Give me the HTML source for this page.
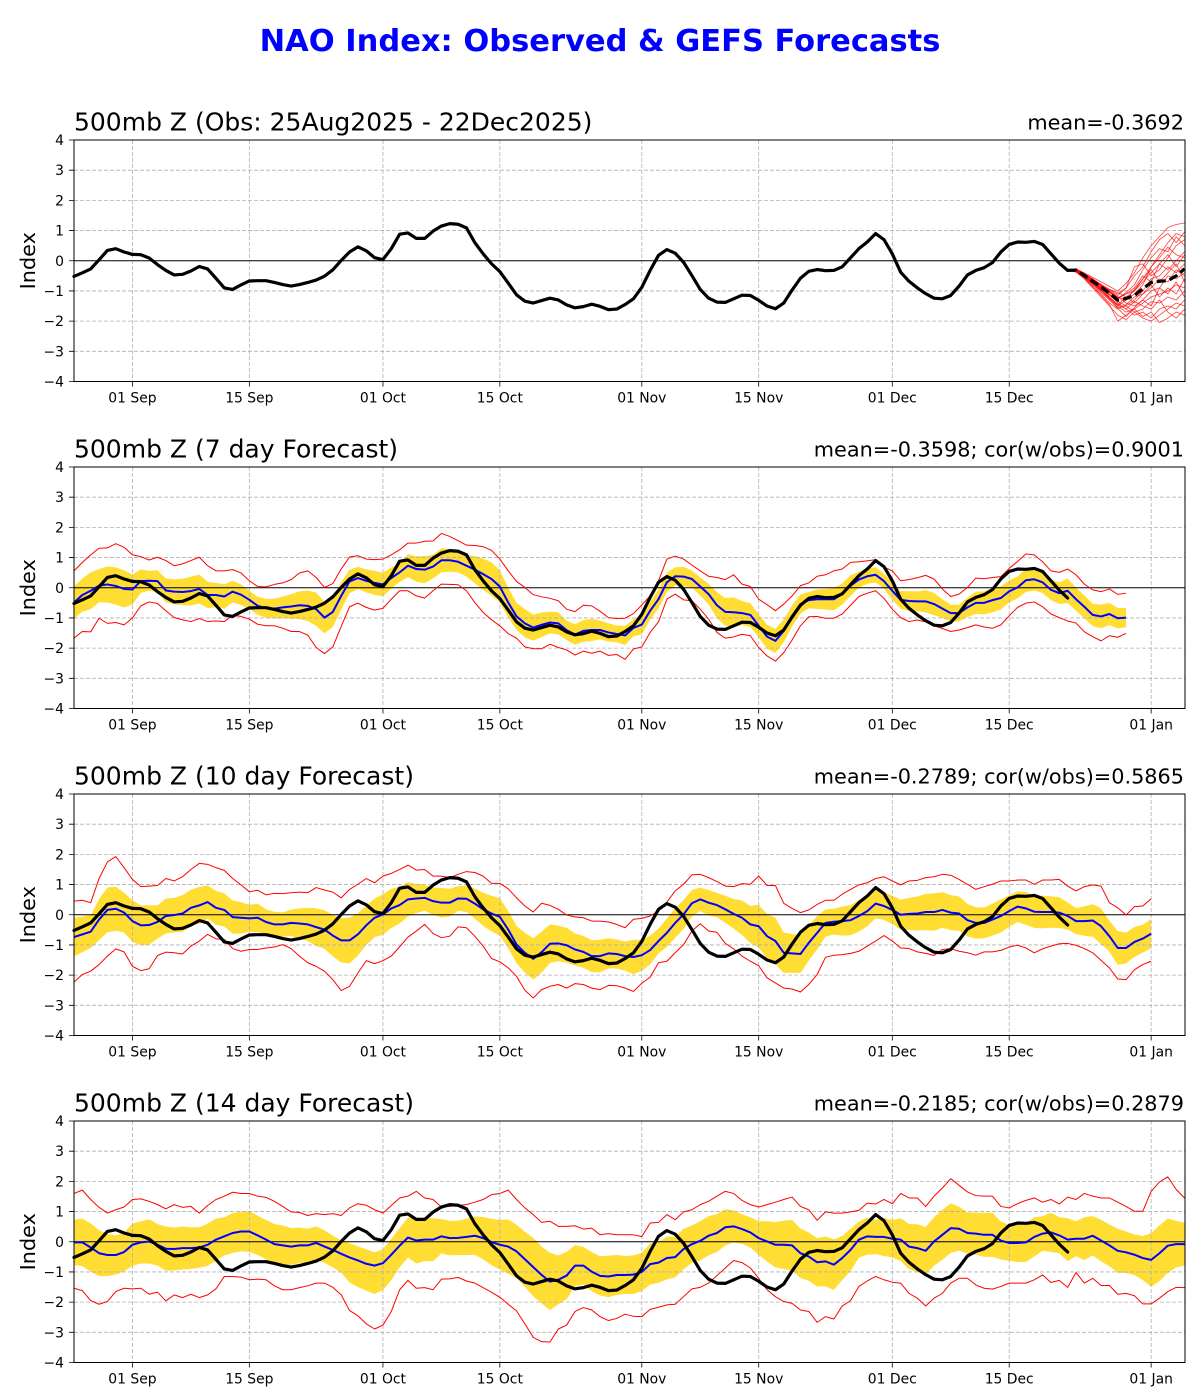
<!DOCTYPE html>
<html>
<head>
<meta charset="utf-8">
<style>
html,body{margin:0;padding:0;background:#fff;}
svg{display:block;}
text{font-family:"DejaVu Sans","Liberation Sans",sans-serif;fill:#000;}
.grid{stroke:#b0b0b0;stroke-width:0.8;stroke-dasharray:4,2;fill:none;}
.tick{stroke:#000;stroke-width:0.8;fill:none;}
.frame{stroke:#000;stroke-width:1;fill:none;}
.zero{stroke:#000;stroke-width:1;fill:none;}
.band{fill:#ffdd33;stroke:none;}
.red{fill:none;stroke:#ff0000;stroke-width:1;stroke-linejoin:round;}
.mem{fill:none;stroke:#ff0000;stroke-width:0.8;stroke-opacity:0.75;stroke-linejoin:round;}
.blue{fill:none;stroke:#0000ff;stroke-width:2;stroke-linejoin:round;}
.obs{fill:none;stroke:#000;stroke-width:3.2;stroke-linejoin:round;stroke-linecap:round;}
.yt{font-size:13.9px;text-anchor:end;}
.xt{font-size:13.9px;text-anchor:middle;}
.ttl{font-size:25px;}
.rt{font-size:20.8px;text-anchor:end;}
.yl{font-size:20.8px;text-anchor:middle;}
</style>
</head>
<body>
<svg width="1200" height="1400" viewBox="0 0 1200 1400" xmlns="http://www.w3.org/2000/svg">
<rect x="0" y="0" width="1200" height="1400" fill="#fff"/>
<text x="600" y="51" text-anchor="middle" style="font-size:30.5px;font-weight:bold;fill:#0000ff;">NAO Index: Observed &amp; GEFS Forecasts</text>

<!-- ================= PANEL 1 ================= -->
<g transform="translate(0,140)">
  <path class="grid" d="M74,30.19H1185M74,60.38H1185M74,90.56H1185M74,150.94H1185M74,181.13H1185M74,211.31H1185M132.45,0V241.5M249.35,0V241.5M382.95,0V241.5M499.85,0V241.5M641.8,0V241.5M758.7,0V241.5M892.3,0V241.5M1009.2,0V241.5M1151.15,0V241.5"/>
  <path class="zero" d="M74,120.75H1185"/>
  <g transform="translate(74,0) scale(8.35,-30.1875) translate(0,-4)">
    <polyline class="mem" vector-effect="non-scaling-stroke" points="119,-0.32 120,-0.28 121,-0.40 122,-0.55 123,-0.70 124,-0.85 125,-1.00 126,-0.75 127,-0.40 128,0.10 129,0.50 130,0.80 131,1.10 132,1.20 133,1.25"/>
    <polyline class="mem" vector-effect="non-scaling-stroke" points="119,-0.32 120,-0.30 121,-0.45 122,-0.60 123,-0.80 124,-0.95 125,-1.10 126,-0.90 127,-0.50 128,-0.20 129,0.30 130,0.70 131,0.90 132,0.60 133,0.95"/>
    <polyline class="mem" vector-effect="non-scaling-stroke" points="119,-0.32 120,-0.35 121,-0.50 122,-0.75 123,-0.90 124,-1.15 125,-1.25 126,-1.05 127,-0.80 128,-0.30 129,0.10 130,0.40 131,0.30 132,0.80 133,0.50"/>
    <polyline class="mem" vector-effect="non-scaling-stroke" points="119,-0.32 120,-0.26 121,-0.42 122,-0.62 123,-0.85 124,-1.05 125,-1.20 126,-1.30 127,-0.95 128,-0.60 129,-0.20 130,0.10 131,0.45 132,0.20 133,0.10"/>
    <polyline class="mem" vector-effect="non-scaling-stroke" points="119,-0.32 120,-0.33 121,-0.55 122,-0.80 123,-1.00 124,-1.20 125,-1.45 126,-1.20 127,-1.00 128,-0.70 129,-0.40 130,-0.10 131,-0.30 132,0.00 133,0.30"/>
    <polyline class="mem" vector-effect="non-scaling-stroke" points="119,-0.32 120,-0.30 121,-0.48 122,-0.70 123,-0.95 124,-1.10 125,-1.35 126,-1.50 127,-1.30 128,-1.00 129,-0.60 130,-0.50 131,-0.20 132,-0.40 133,-0.10"/>
    <polyline class="mem" vector-effect="non-scaling-stroke" points="119,-0.32 120,-0.36 121,-0.58 122,-0.85 123,-1.10 124,-1.40 125,-1.60 126,-1.45 127,-1.20 128,-1.10 129,-0.90 130,-0.60 131,-0.70 132,-0.30 133,-0.50"/>
    <polyline class="mem" vector-effect="non-scaling-stroke" points="119,-0.32 120,-0.29 121,-0.44 122,-0.65 123,-0.82 124,-1.00 125,-1.20 126,-1.40 127,-1.50 128,-1.30 129,-1.00 130,-0.90 131,-0.50 132,-0.60 133,-0.40"/>
    <polyline class="mem" vector-effect="non-scaling-stroke" points="119,-0.32 120,-0.34 121,-0.52 122,-0.72 123,-0.92 124,-1.20 125,-1.50 126,-1.70 127,-1.60 128,-1.40 129,-1.20 130,-1.10 131,-1.00 132,-0.80 133,-0.90"/>
    <polyline class="mem" vector-effect="non-scaling-stroke" points="119,-0.32 120,-0.31 121,-0.50 122,-0.78 123,-1.05 124,-1.30 125,-1.55 126,-1.50 127,-1.70 128,-1.60 129,-1.35 130,-1.40 131,-1.20 132,-1.30 133,-1.00"/>
    <polyline class="mem" vector-effect="non-scaling-stroke" points="119,-0.32 120,-0.27 121,-0.46 122,-0.66 123,-0.88 124,-1.12 125,-1.40 126,-1.60 127,-1.80 128,-1.70 129,-1.90 130,-1.60 131,-1.50 132,-1.60 133,-1.30"/>
    <polyline class="mem" vector-effect="non-scaling-stroke" points="119,-0.32 120,-0.38 121,-0.60 122,-0.90 123,-1.20 124,-1.50 125,-1.80 126,-1.95 127,-1.70 128,-1.90 129,-2.00 130,-1.80 131,-1.60 132,-1.40 133,-1.50"/>
    <polyline class="mem" vector-effect="non-scaling-stroke" points="119,-0.32 120,-0.33 121,-0.56 122,-0.85 123,-1.15 124,-1.45 125,-2.00 126,-1.80 127,-1.60 128,-1.85 129,-1.70 130,-2.05 131,-1.90 132,-1.70 133,-1.80"/>
    <polyline class="mem" vector-effect="non-scaling-stroke" points="119,-0.32 120,-0.30 121,-0.47 122,-0.64 123,-0.80 124,-0.98 125,-1.15 126,-0.90 127,-0.20 128,-0.10 129,-0.50 130,-0.30 131,0.10 132,0.50 133,0.70"/>
    <polyline class="mem" vector-effect="non-scaling-stroke" points="119,-0.32 120,-0.34 121,-0.54 122,-0.74 123,-0.96 124,-1.25 125,-1.50 126,-1.30 127,-1.10 128,-0.80 129,-0.20 130,0.20 131,0.60 132,0.90 133,0.80"/>
    <polyline class="mem" vector-effect="non-scaling-stroke" points="119,-0.32 120,-0.29 121,-0.43 122,-0.60 123,-0.78 124,-0.95 125,-1.05 126,-1.20 127,-1.40 128,-1.10 129,-0.80 130,-1.20 131,-0.90 132,-1.10 133,-0.60"/>
    <polyline class="mem" vector-effect="non-scaling-stroke" points="119,-0.32 120,-0.32 121,-0.51 122,-0.73 123,-0.97 124,-1.22 125,-1.45 126,-1.60 127,-1.35 128,-1.50 129,-1.60 130,-1.30 131,-1.70 132,-1.90 133,-1.60"/>
    <polyline class="mem" vector-effect="non-scaling-stroke" points="119,-0.32 120,-0.31 121,-0.49 122,-0.69 123,-0.89 124,-1.05 125,-1.25 126,-1.10 127,-0.90 128,-0.50 129,-0.70 130,-0.10 131,0.20 132,-0.20 133,0.20"/>
    <polyline class="mem" vector-effect="non-scaling-stroke" points="119,-0.32 120,-0.35 121,-0.53 122,-0.76 123,-0.99 124,-1.28 125,-1.58 126,-1.85 127,-1.55 128,-1.30 129,-1.50 130,-0.90 131,-1.10 132,-0.70 133,-1.20"/>
    <polyline class="mem" vector-effect="non-scaling-stroke" points="119,-0.32 120,-0.28 121,-0.44 122,-0.63 123,-0.84 124,-1.02 125,-1.22 126,-1.10 127,-1.00 128,-0.60 129,-0.30 130,-0.70 131,-0.40 132,-0.10 133,-0.70"/>
    <polyline class="obs" vector-effect="non-scaling-stroke" points="0,-0.52 1,-0.40 2,-0.27 3,0.03 4,0.34 5,0.40 6,0.29 7,0.21 8,0.20 9,0.09 10,-0.13 11,-0.32 12,-0.47 13,-0.45 14,-0.34 15,-0.19 16,-0.27 17,-0.58 18,-0.90 19,-0.95 20,-0.80 21,-0.67 22,-0.66 23,-0.66 24,-0.72 25,-0.79 26,-0.84 27,-0.79 28,-0.72 29,-0.64 30,-0.51 31,-0.30 32,0.01 33,0.29 34,0.46 35,0.33 36,0.10 37,0.04 38,0.40 39,0.88 40,0.92 41,0.74 42,0.74 43,0.98 44,1.15 45,1.23 46,1.21 47,1.09 48,0.60 49,0.23 50,-0.10 51,-0.36 52,-0.74 53,-1.13 54,-1.34 55,-1.40 56,-1.32 57,-1.24 58,-1.30 59,-1.46 60,-1.56 61,-1.52 62,-1.44 63,-1.51 64,-1.62 65,-1.60 66,-1.45 67,-1.26 68,-0.88 69,-0.32 70,0.18 71,0.37 72,0.25 73,-0.05 74,-0.49 75,-0.95 76,-1.24 77,-1.37 78,-1.38 79,-1.26 80,-1.14 81,-1.15 82,-1.31 83,-1.50 84,-1.59 85,-1.40 86,-0.97 87,-0.58 88,-0.35 89,-0.29 90,-0.33 91,-0.32 92,-0.20 93,0.10 94,0.40 95,0.62 96,0.90 97,0.70 98,0.23 99,-0.38 100,-0.68 101,-0.90 102,-1.09 103,-1.24 104,-1.26 105,-1.15 106,-0.84 107,-0.47 108,-0.32 109,-0.23 110,-0.06 111,0.29 112,0.54 113,0.62 114,0.61 115,0.64 116,0.54 117,0.23 118,-0.08 119,-0.32"/>
  </g>
  <polyline fill="none" stroke="#000" stroke-width="3.2" stroke-dasharray="9,4" points="1067.65,130.41 1076,130.11 1084.35,135.54 1092.7,141.28 1101.05,147.01 1109.4,153.35 1117.75,160 1126.1,158.48 1134.45,155.47 1142.8,148.82 1151.15,142.49 1159.5,141.28 1167.85,140.67 1176.2,135.84 1184.55,128.9"/>
  <rect class="frame" x="74" y="0" width="1111" height="241.5"/>
  <path class="tick" d="M69,0H74M69,30.19H74M69,60.38H74M69,90.56H74M69,120.75H74M69,150.94H74M69,181.13H74M69,211.31H74M69,241.5H74M132.45,241.5V246.5M249.35,241.5V246.5M382.95,241.5V246.5M499.85,241.5V246.5M641.8,241.5V246.5M758.7,241.5V246.5M892.3,241.5V246.5M1009.2,241.5V246.5M1151.15,241.5V246.5"/>
  <text class="yt" x="64" y="5">4</text><text class="yt" x="64" y="35.2">3</text><text class="yt" x="64" y="65.4">2</text><text class="yt" x="64" y="95.6">1</text><text class="yt" x="64" y="125.8">0</text><text class="yt" x="64" y="155.9">−1</text><text class="yt" x="64" y="186.1">−2</text><text class="yt" x="64" y="216.3">−3</text><text class="yt" x="64" y="246.5">−4</text>
  <text class="xt" x="132.45" y="262.7">01 Sep</text><text class="xt" x="249.35" y="262.7">15 Sep</text><text class="xt" x="382.95" y="262.7">01 Oct</text><text class="xt" x="499.85" y="262.7">15 Oct</text><text class="xt" x="641.8" y="262.7">01 Nov</text><text class="xt" x="758.7" y="262.7">15 Nov</text><text class="xt" x="892.3" y="262.7">01 Dec</text><text class="xt" x="1009.2" y="262.7">15 Dec</text><text class="xt" x="1151.15" y="262.7">01 Jan</text>
  <text class="ttl" x="74" y="-9.5">500mb Z (Obs: 25Aug2025 - 22Dec2025)</text>
  <text class="rt" x="1184" y="-10.5">mean=-0.3692</text>
  <text class="yl" transform="translate(35,120.75) rotate(-90)">Index</text>
</g>

<!-- ================= PANEL 2 ================= -->
<g transform="translate(0,467)">
  <g transform="translate(74,0) scale(8.35,-30.1875) translate(0,-4)">
    <polygon class="band" points="0,0.04 1,0.31 2,0.51 3,0.62 4,0.71 5,0.68 6,0.57 7,0.44 8,0.61 9,0.56 10,0.58 11,0.31 12,0.28 13,0.30 14,0.37 15,0.44 16,0.20 17,0.16 18,0.11 19,0.23 20,0.11 21,-0.10 22,-0.30 23,-0.37 24,-0.36 25,-0.29 26,-0.21 27,-0.12 28,-0.09 29,-0.16 30,-0.47 31,-0.30 32,0.18 33,0.60 34,0.69 35,0.61 36,0.56 37,0.50 38,0.67 39,0.83 40,1.11 41,1.04 42,1.05 43,1.09 44,1.31 45,1.29 46,1.21 47,1.09 48,1.05 49,0.97 50,0.84 51,0.57 52,0.01 53,-0.50 54,-0.71 55,-0.89 56,-0.82 57,-0.79 58,-0.81 59,-1.09 60,-1.21 61,-1.07 62,-1.03 63,-1.09 64,-1.18 65,-1.25 66,-1.26 67,-1.05 68,-0.89 69,-0.47 70,-0.06 71,0.50 72,0.68 73,0.69 74,0.57 75,0.34 76,0.13 77,-0.15 78,-0.34 79,-0.32 80,-0.44 81,-0.51 82,-0.88 83,-1.22 84,-1.36 85,-1.05 86,-0.58 87,-0.22 88,-0.14 89,-0.06 90,-0.04 91,-0.01 92,0.14 93,0.41 94,0.54 95,0.63 96,0.68 97,0.47 98,0.20 99,-0.11 100,-0.11 101,-0.12 102,-0.08 103,-0.17 104,-0.38 105,-0.56 106,-0.56 107,-0.33 108,-0.13 109,-0.12 110,-0.01 111,0.04 112,0.25 113,0.37 114,0.64 115,0.65 116,0.53 117,0.27 118,0.18 119,0.31 120,0.00 121,-0.25 122,-0.53 123,-0.56 124,-0.50 125,-0.67 126,-0.67 126,-1.31 125,-1.35 124,-1.24 123,-1.34 122,-1.27 121,-1.01 120,-0.76 119,-0.51 118,-0.54 117,-0.41 116,-0.17 115,-0.09 114,-0.14 113,-0.35 112,-0.49 111,-0.72 110,-0.81 109,-0.88 108,-0.87 107,-0.97 106,-1.12 105,-1.12 104,-1.00 103,-0.91 102,-0.82 101,-0.78 100,-0.77 99,-0.69 98,-0.40 97,-0.03 96,0.18 95,0.13 94,0.00 93,-0.27 92,-0.56 91,-0.75 90,-0.72 89,-0.70 88,-0.68 87,-0.86 86,-1.28 85,-1.81 84,-2.16 83,-2.02 82,-1.64 81,-1.29 80,-1.24 79,-1.30 78,-1.26 77,-1.01 76,-0.55 75,-0.26 74,0.01 73,0.05 72,0.08 71,-0.14 70,-0.70 69,-1.05 68,-1.55 67,-1.61 66,-1.90 65,-1.81 64,-1.78 63,-1.71 62,-1.77 61,-1.79 60,-1.89 59,-1.73 58,-1.55 57,-1.51 56,-1.64 55,-1.75 54,-1.65 53,-1.40 52,-0.99 51,-0.49 50,-0.26 49,-0.07 48,0.15 47,0.37 46,0.51 45,0.53 44,0.51 43,0.31 42,0.15 41,0.20 40,0.35 39,0.19 38,-0.03 37,-0.28 36,-0.24 35,-0.15 34,-0.05 33,-0.18 32,-0.72 31,-1.30 30,-1.51 29,-1.26 28,-1.11 27,-1.04 26,-1.03 25,-1.01 24,-1.02 23,-0.99 22,-0.90 21,-0.70 20,-0.57 19,-0.49 18,-0.69 17,-0.64 16,-0.68 15,-0.52 14,-0.59 13,-0.58 12,-0.54 11,-0.49 10,-0.14 9,-0.10 8,-0.17 7,-0.56 6,-0.65 5,-0.56 4,-0.49 3,-0.48 2,-0.71 1,-0.79 0,-1.02"/>
  </g>
  <path class="grid" d="M74,30.19H1185M74,60.38H1185M74,90.56H1185M74,150.94H1185M74,181.13H1185M74,211.31H1185M132.45,0V241.5M249.35,0V241.5M382.95,0V241.5M499.85,0V241.5M641.8,0V241.5M758.7,0V241.5M892.3,0V241.5M1009.2,0V241.5M1151.15,0V241.5"/>
  <path class="zero" d="M74,120.75H1185"/>
  <g transform="translate(74,0) scale(8.35,-30.1875) translate(0,-4)">
    <polyline class="red" vector-effect="non-scaling-stroke" points="0,0.56 1,0.84 2,1.09 3,1.31 4,1.32 5,1.46 6,1.34 7,1.09 8,1.03 9,0.92 10,1.01 11,0.90 12,0.73 13,0.79 14,0.90 15,1.01 16,0.73 17,0.56 18,0.56 19,0.60 20,0.49 21,0.23 22,0.04 23,0.03 24,0.11 25,0.16 26,0.27 27,0.49 28,0.56 29,0.34 30,0.01 31,0.14 32,0.62 33,1.02 34,1.06 35,0.95 36,0.93 37,0.95 38,1.09 39,1.26 40,1.48 41,1.48 42,1.54 43,1.55 44,1.80 45,1.70 46,1.56 47,1.41 48,1.40 49,1.36 50,1.24 51,0.95 52,0.56 53,0.21 54,0.01 55,-0.23 56,-0.30 57,-0.35 58,-0.43 59,-0.71 60,-0.79 61,-0.58 62,-0.60 63,-0.78 64,-0.99 65,-1.02 66,-1.01 67,-0.86 68,-0.57 69,-0.27 70,0.23 71,0.95 72,1.05 73,0.95 74,0.75 75,0.56 76,0.38 77,0.34 78,0.27 79,0.43 80,0.12 81,0.04 82,-0.38 83,-0.56 84,-0.76 85,-0.54 86,-0.27 87,0.07 88,0.16 89,0.38 90,0.43 91,0.56 92,0.62 93,0.84 94,0.86 95,0.89 96,0.93 97,0.68 98,0.56 99,0.23 100,0.27 101,0.33 102,0.41 103,0.29 104,-0.04 105,-0.29 106,-0.21 107,0.01 108,0.32 109,0.30 110,0.34 111,0.37 112,0.64 113,0.87 114,1.12 115,1.09 116,0.86 117,0.56 118,0.51 119,0.62 120,0.43 121,0.12 122,-0.07 123,-0.13 124,-0.04 125,-0.22 126,-0.18"/>
    <polyline class="red" vector-effect="non-scaling-stroke" points="0,-1.67 1,-1.45 2,-1.46 3,-1.01 4,-1.18 5,-1.15 6,-1.23 7,-1.00 8,-0.60 9,-0.47 10,-0.52 11,-0.76 12,-0.99 13,-1.06 14,-1.12 15,-1.02 16,-1.12 17,-1.10 18,-1.12 19,-0.91 20,-0.95 21,-1.04 22,-1.21 23,-1.26 24,-1.26 25,-1.34 26,-1.45 27,-1.45 28,-1.57 29,-1.98 30,-2.18 31,-1.96 32,-1.28 33,-0.63 34,-0.51 35,-0.65 36,-0.74 37,-0.68 38,-0.38 39,-0.10 40,-0.10 41,-0.27 42,-0.34 43,-0.10 44,0.12 45,0.11 46,0.10 47,-0.10 48,-0.49 49,-0.82 50,-1.06 51,-1.26 52,-1.52 53,-1.67 54,-1.96 55,-2.02 56,-2.02 57,-1.87 58,-1.98 59,-2.06 60,-2.23 61,-2.10 62,-2.17 63,-2.10 64,-2.24 65,-2.21 66,-2.37 67,-2.03 68,-1.96 69,-1.48 70,-1.13 71,-0.38 72,-0.21 73,-0.40 74,-0.43 75,-0.71 76,-1.04 77,-1.48 78,-1.67 79,-1.63 80,-1.54 81,-1.59 82,-1.98 83,-2.26 84,-2.43 85,-2.15 86,-1.73 87,-1.26 88,-0.96 89,-0.95 90,-1.01 91,-1.01 92,-0.87 93,-0.58 94,-0.29 95,-0.18 96,-0.10 97,-0.35 98,-0.71 99,-0.99 100,-1.12 101,-1.07 102,-1.13 103,-1.26 104,-1.35 105,-1.45 106,-1.40 107,-1.32 108,-1.23 109,-1.30 110,-1.34 111,-1.23 112,-0.93 113,-0.65 114,-0.51 115,-0.47 116,-0.63 117,-0.87 118,-0.99 119,-1.10 120,-1.17 121,-1.46 122,-1.62 123,-1.76 124,-1.59 125,-1.64 126,-1.51"/>
    <polyline class="blue" vector-effect="non-scaling-stroke" points="0,-0.49 1,-0.24 2,-0.10 3,0.07 4,0.11 5,0.06 6,-0.04 7,-0.06 8,0.22 9,0.23 10,0.22 11,-0.09 12,-0.13 13,-0.14 14,-0.11 15,-0.04 16,-0.24 17,-0.24 18,-0.29 19,-0.13 20,-0.23 21,-0.40 22,-0.60 23,-0.68 24,-0.69 25,-0.65 26,-0.62 27,-0.58 28,-0.60 29,-0.71 30,-0.99 31,-0.80 32,-0.27 33,0.21 34,0.32 35,0.23 36,0.16 37,0.11 38,0.32 39,0.51 40,0.73 41,0.62 42,0.60 43,0.70 44,0.91 45,0.91 46,0.86 47,0.73 48,0.60 49,0.45 50,0.29 51,0.04 52,-0.49 53,-0.95 54,-1.18 55,-1.32 56,-1.23 57,-1.15 58,-1.18 59,-1.41 60,-1.55 61,-1.43 62,-1.40 63,-1.40 64,-1.48 65,-1.53 66,-1.58 67,-1.33 68,-1.22 69,-0.76 70,-0.38 71,0.18 72,0.38 73,0.37 74,0.29 75,0.04 76,-0.21 77,-0.58 78,-0.80 79,-0.81 80,-0.84 81,-0.90 82,-1.26 83,-1.62 84,-1.76 85,-1.43 86,-0.93 87,-0.54 88,-0.41 89,-0.38 90,-0.38 91,-0.38 92,-0.21 93,0.07 94,0.27 95,0.38 96,0.43 97,0.22 98,-0.10 99,-0.40 100,-0.44 101,-0.45 102,-0.45 103,-0.54 104,-0.69 105,-0.84 106,-0.84 107,-0.65 108,-0.50 109,-0.50 110,-0.41 111,-0.34 112,-0.12 113,0.01 114,0.25 115,0.28 116,0.18 117,-0.07 118,-0.18 119,-0.10 120,-0.38 121,-0.63 122,-0.90 123,-0.95 124,-0.87 125,-1.01 126,-0.99"/>
    <polyline class="obs" vector-effect="non-scaling-stroke" points="0,-0.52 1,-0.40 2,-0.27 3,0.03 4,0.34 5,0.40 6,0.29 7,0.21 8,0.20 9,0.09 10,-0.13 11,-0.32 12,-0.47 13,-0.45 14,-0.34 15,-0.19 16,-0.27 17,-0.58 18,-0.90 19,-0.95 20,-0.80 21,-0.67 22,-0.66 23,-0.66 24,-0.72 25,-0.79 26,-0.84 27,-0.79 28,-0.72 29,-0.64 30,-0.51 31,-0.30 32,0.01 33,0.29 34,0.46 35,0.33 36,0.10 37,0.04 38,0.40 39,0.88 40,0.92 41,0.74 42,0.74 43,0.98 44,1.15 45,1.23 46,1.21 47,1.09 48,0.60 49,0.23 50,-0.10 51,-0.36 52,-0.74 53,-1.13 54,-1.34 55,-1.40 56,-1.32 57,-1.24 58,-1.30 59,-1.46 60,-1.56 61,-1.52 62,-1.44 63,-1.51 64,-1.62 65,-1.60 66,-1.45 67,-1.26 68,-0.88 69,-0.32 70,0.18 71,0.37 72,0.25 73,-0.05 74,-0.49 75,-0.95 76,-1.24 77,-1.37 78,-1.38 79,-1.26 80,-1.14 81,-1.15 82,-1.31 83,-1.50 84,-1.59 85,-1.40 86,-0.97 87,-0.58 88,-0.35 89,-0.29 90,-0.33 91,-0.32 92,-0.20 93,0.10 94,0.40 95,0.62 96,0.90 97,0.70 98,0.23 99,-0.38 100,-0.68 101,-0.90 102,-1.09 103,-1.24 104,-1.26 105,-1.15 106,-0.84 107,-0.47 108,-0.32 109,-0.23 110,-0.06 111,0.29 112,0.54 113,0.62 114,0.61 115,0.64 116,0.54 117,0.23 118,-0.08 119,-0.34"/>
  </g>
  <rect class="frame" x="74" y="0" width="1111" height="241.5"/>
  <path class="tick" d="M69,0H74M69,30.19H74M69,60.38H74M69,90.56H74M69,120.75H74M69,150.94H74M69,181.13H74M69,211.31H74M69,241.5H74M132.45,241.5V246.5M249.35,241.5V246.5M382.95,241.5V246.5M499.85,241.5V246.5M641.8,241.5V246.5M758.7,241.5V246.5M892.3,241.5V246.5M1009.2,241.5V246.5M1151.15,241.5V246.5"/>
  <text class="yt" x="64" y="5">4</text><text class="yt" x="64" y="35.2">3</text><text class="yt" x="64" y="65.4">2</text><text class="yt" x="64" y="95.6">1</text><text class="yt" x="64" y="125.8">0</text><text class="yt" x="64" y="155.9">−1</text><text class="yt" x="64" y="186.1">−2</text><text class="yt" x="64" y="216.3">−3</text><text class="yt" x="64" y="246.5">−4</text>
  <text class="xt" x="132.45" y="262.7">01 Sep</text><text class="xt" x="249.35" y="262.7">15 Sep</text><text class="xt" x="382.95" y="262.7">01 Oct</text><text class="xt" x="499.85" y="262.7">15 Oct</text><text class="xt" x="641.8" y="262.7">01 Nov</text><text class="xt" x="758.7" y="262.7">15 Nov</text><text class="xt" x="892.3" y="262.7">01 Dec</text><text class="xt" x="1009.2" y="262.7">15 Dec</text><text class="xt" x="1151.15" y="262.7">01 Jan</text>
  <text class="ttl" x="74" y="-9.5">500mb Z (7 day Forecast)</text>
  <text class="rt" x="1184" y="-10.5">mean=-0.3598; cor(w/obs)=0.9001</text>
  <text class="yl" transform="translate(35,120.75) rotate(-90)">Index</text>
</g>

<!-- ================= PANEL 3 ================= -->
<g transform="translate(0,794)">
  <g transform="translate(74,0) scale(8.35,-30.1875) translate(0,-4)">
    <polygon class="band" points="0,-0.10 1,-0.06 2,-0.02 3,0.52 4,0.90 5,0.93 6,0.73 7,0.48 8,0.31 9,0.31 10,0.31 11,0.54 12,0.56 13,0.65 14,0.83 15,0.92 16,0.97 17,0.79 18,0.71 19,0.47 20,0.42 21,0.33 22,0.37 23,0.18 24,0.10 25,0.08 26,0.17 27,0.21 28,0.23 29,0.21 30,0.15 31,0.00 32,-0.12 33,-0.09 34,0.05 35,0.30 36,0.54 37,0.68 38,0.86 39,0.93 40,1.08 41,1.02 42,0.99 43,0.90 44,0.89 45,0.86 46,0.95 47,0.97 48,0.87 49,0.73 50,0.63 51,0.55 52,0.13 53,-0.37 54,-0.60 55,-0.78 56,-0.56 57,-0.32 58,-0.36 59,-0.43 60,-0.62 61,-0.70 62,-0.84 63,-0.83 64,-0.78 65,-0.82 66,-0.89 67,-0.83 68,-0.83 69,-0.69 70,-0.46 71,-0.13 72,0.22 73,0.49 74,0.82 75,0.90 76,0.82 77,0.72 78,0.63 79,0.52 80,0.47 81,0.29 82,0.33 83,0.02 84,-0.10 85,-0.59 86,-0.64 87,-0.67 88,-0.34 89,-0.05 90,0.18 91,0.20 92,0.27 93,0.32 94,0.48 95,0.62 96,0.86 97,0.75 98,0.63 99,0.50 100,0.56 101,0.60 102,0.69 103,0.71 104,0.75 105,0.65 106,0.61 107,0.36 108,0.25 109,0.24 110,0.37 111,0.51 112,0.64 113,0.78 114,0.75 115,0.64 116,0.63 117,0.61 118,0.58 119,0.41 120,0.22 121,0.28 122,0.35 123,0.21 124,-0.20 125,-0.54 126,-0.59 127,-0.40 128,-0.33 129,-0.14 129,-1.12 128,-1.25 127,-1.40 126,-1.61 125,-1.66 124,-1.22 123,-0.97 122,-0.73 121,-0.70 120,-0.64 119,-0.49 118,-0.44 117,-0.43 116,-0.45 115,-0.44 114,-0.33 113,-0.24 112,-0.40 111,-0.59 110,-0.69 109,-0.78 108,-0.79 107,-0.72 106,-0.53 105,-0.51 104,-0.43 103,-0.53 102,-0.51 101,-0.52 100,-0.50 99,-0.50 98,-0.31 97,-0.17 96,-0.12 95,-0.38 94,-0.56 93,-0.68 92,-0.69 91,-0.66 90,-0.72 89,-1.15 88,-1.52 87,-1.93 86,-1.92 85,-1.93 84,-1.64 83,-1.44 82,-1.09 81,-0.93 80,-0.67 79,-0.46 78,-0.27 77,-0.08 76,-0.02 75,0.12 74,-0.06 73,-0.47 72,-0.76 71,-1.07 70,-1.28 69,-1.65 68,-1.85 67,-1.97 66,-1.85 65,-1.78 64,-1.78 63,-1.91 62,-1.90 61,-1.76 60,-1.68 59,-1.59 58,-1.54 57,-1.60 56,-1.92 55,-2.14 54,-1.92 53,-1.61 52,-1.11 51,-0.69 50,-0.55 49,-0.37 48,-0.13 47,0.09 46,0.13 45,-0.06 44,-0.09 43,0.00 42,0.13 41,0.06 40,-0.06 39,-0.29 38,-0.44 37,-0.66 36,-0.74 35,-1.00 34,-1.35 33,-1.61 32,-1.58 31,-1.38 30,-1.13 29,-1.03 28,-0.87 27,-0.79 26,-0.71 25,-0.72 24,-0.74 23,-0.66 22,-0.57 21,-0.57 20,-0.62 19,-0.63 18,-0.39 17,-0.33 16,-0.13 15,-0.30 14,-0.37 13,-0.57 12,-0.58 11,-0.62 10,-0.79 9,-0.99 8,-1.01 7,-0.90 6,-0.59 5,-0.53 4,-0.58 3,-0.84 2,-1.10 1,-1.24 0,-1.38"/>
  </g>
  <path class="grid" d="M74,30.19H1185M74,60.38H1185M74,90.56H1185M74,150.94H1185M74,181.13H1185M74,211.31H1185M132.45,0V241.5M249.35,0V241.5M382.95,0V241.5M499.85,0V241.5M641.8,0V241.5M758.7,0V241.5M892.3,0V241.5M1009.2,0V241.5M1151.15,0V241.5"/>
  <path class="zero" d="M74,120.75H1185"/>
  <g transform="translate(74,0) scale(8.35,-30.1875) translate(0,-4)">
    <polyline class="red" vector-effect="non-scaling-stroke" points="0,0.45 1,0.48 2,0.40 3,1.20 4,1.75 5,1.93 6,1.56 7,1.17 8,0.93 9,0.95 10,0.97 11,1.20 12,1.12 13,1.26 14,1.50 15,1.70 16,1.67 17,1.56 18,1.47 19,1.20 20,0.99 21,0.76 22,0.81 23,0.66 24,0.71 25,0.70 26,0.73 27,0.75 28,0.73 29,0.90 30,0.82 31,0.75 32,0.56 33,0.84 34,1.01 35,1.20 36,1.06 37,1.28 38,1.37 39,1.50 40,1.64 41,1.48 42,1.50 43,1.28 44,1.28 45,1.23 46,1.34 47,1.43 48,1.40 49,1.28 50,1.04 51,1.04 52,0.86 53,0.56 54,0.29 55,0.09 56,0.38 57,0.31 58,0.18 59,-0.01 60,-0.07 61,-0.10 62,-0.21 63,-0.21 64,-0.24 65,-0.32 66,-0.43 67,-0.15 68,-0.12 69,-0.04 70,0.12 71,0.42 72,0.79 73,1.01 74,1.32 75,1.34 76,1.23 77,1.10 78,0.95 79,0.93 80,1.03 81,1.01 82,1.28 83,0.97 84,0.97 85,0.38 86,0.21 87,0.07 88,0.16 89,0.34 90,0.48 91,0.48 92,0.68 93,0.84 94,0.99 95,1.06 96,1.20 97,1.26 98,1.12 99,0.99 100,1.12 101,1.14 102,1.23 103,1.26 104,1.34 105,1.31 106,1.17 107,1.01 108,0.84 109,0.93 110,1.01 111,1.12 112,1.12 113,1.15 114,1.15 115,1.01 116,1.15 117,1.15 118,1.17 119,0.95 120,0.79 121,0.93 122,0.99 123,0.95 124,0.40 125,0.23 126,-0.01 127,0.27 128,0.29 129,0.53"/>
    <polyline class="red" vector-effect="non-scaling-stroke" points="0,-2.23 1,-1.98 2,-1.87 3,-1.65 4,-1.37 5,-1.13 6,-1.23 7,-1.71 8,-1.85 9,-1.79 10,-1.35 11,-1.24 12,-1.26 13,-1.30 14,-1.04 15,-0.87 16,-0.65 17,-0.80 18,-0.82 19,-1.12 20,-1.21 21,-1.15 22,-1.15 23,-1.10 24,-1.07 25,-0.99 26,-1.12 27,-1.37 28,-1.59 29,-1.71 30,-1.87 31,-2.15 32,-2.51 33,-2.37 34,-1.93 35,-1.52 36,-1.62 37,-1.52 38,-1.37 39,-1.06 40,-0.74 41,-0.54 42,-0.32 43,-0.62 44,-0.76 45,-0.71 46,-0.40 47,-0.43 48,-0.71 49,-1.04 50,-1.45 51,-1.56 52,-1.76 53,-2.04 54,-2.50 55,-2.76 56,-2.48 57,-2.37 58,-2.31 59,-2.43 60,-2.28 61,-2.31 62,-2.43 63,-2.48 64,-2.34 65,-2.35 66,-2.43 67,-2.54 68,-2.27 69,-2.07 70,-1.59 71,-1.54 72,-1.26 73,-0.99 74,-0.54 75,-0.30 76,-0.54 77,-0.58 78,-0.95 79,-1.13 80,-1.37 81,-1.54 82,-1.69 83,-2.09 84,-2.26 85,-2.43 86,-2.46 87,-2.56 88,-2.31 89,-1.98 90,-1.41 91,-1.34 92,-1.32 93,-1.28 94,-1.21 95,-1.04 96,-0.87 97,-0.69 98,-0.87 99,-1.10 100,-1.12 101,-1.23 102,-1.28 103,-1.35 104,-1.15 105,-1.12 106,-1.21 107,-1.26 108,-1.34 109,-1.23 110,-1.23 111,-1.18 112,-1.07 113,-1.01 114,-1.10 115,-1.26 116,-1.13 117,-1.04 118,-0.96 119,-0.95 120,-1.01 121,-1.12 122,-1.26 123,-1.51 124,-1.76 125,-2.13 126,-2.15 127,-1.82 128,-1.65 129,-1.54"/>
    <polyline class="blue" vector-effect="non-scaling-stroke" points="0,-0.74 1,-0.65 2,-0.56 3,-0.16 4,0.16 5,0.20 6,0.07 7,-0.21 8,-0.35 9,-0.34 10,-0.24 11,-0.04 12,-0.01 13,0.04 14,0.23 15,0.31 16,0.42 17,0.23 18,0.16 19,-0.08 20,-0.10 21,-0.12 22,-0.10 23,-0.24 24,-0.32 25,-0.32 26,-0.27 27,-0.29 28,-0.32 29,-0.41 30,-0.49 31,-0.69 32,-0.85 33,-0.85 34,-0.65 35,-0.35 36,-0.10 37,0.01 38,0.21 39,0.32 40,0.51 41,0.54 42,0.56 43,0.45 44,0.40 45,0.40 46,0.54 47,0.53 48,0.37 49,0.18 50,0.04 51,-0.07 52,-0.49 53,-0.99 54,-1.26 55,-1.46 56,-1.24 57,-0.96 58,-0.95 59,-1.01 60,-1.15 61,-1.23 62,-1.37 63,-1.37 64,-1.28 65,-1.30 66,-1.37 67,-1.40 68,-1.34 69,-1.17 70,-0.87 71,-0.60 72,-0.27 73,0.01 74,0.38 75,0.51 76,0.40 77,0.32 78,0.18 79,0.03 80,-0.10 81,-0.32 82,-0.38 83,-0.71 84,-0.87 85,-1.26 86,-1.28 87,-1.30 88,-0.93 89,-0.60 90,-0.27 91,-0.23 92,-0.21 93,-0.18 94,-0.04 95,0.12 96,0.37 97,0.29 98,0.16 99,0.00 100,0.03 101,0.04 102,0.09 103,0.09 104,0.16 105,0.07 106,0.04 107,-0.18 108,-0.27 109,-0.27 110,-0.16 111,-0.04 112,0.12 113,0.27 114,0.21 115,0.10 116,0.09 117,0.09 118,0.07 119,-0.04 120,-0.21 121,-0.21 122,-0.19 123,-0.38 124,-0.71 125,-1.10 126,-1.10 127,-0.90 128,-0.79 129,-0.63"/>
    <polyline class="obs" vector-effect="non-scaling-stroke" points="0,-0.52 1,-0.40 2,-0.27 3,0.03 4,0.34 5,0.40 6,0.29 7,0.21 8,0.20 9,0.09 10,-0.13 11,-0.32 12,-0.47 13,-0.45 14,-0.34 15,-0.19 16,-0.27 17,-0.58 18,-0.90 19,-0.95 20,-0.80 21,-0.67 22,-0.66 23,-0.66 24,-0.72 25,-0.79 26,-0.84 27,-0.79 28,-0.72 29,-0.64 30,-0.51 31,-0.30 32,0.01 33,0.29 34,0.46 35,0.33 36,0.10 37,0.04 38,0.40 39,0.88 40,0.92 41,0.74 42,0.74 43,0.98 44,1.15 45,1.23 46,1.21 47,1.09 48,0.60 49,0.23 50,-0.10 51,-0.36 52,-0.74 53,-1.13 54,-1.34 55,-1.40 56,-1.32 57,-1.24 58,-1.30 59,-1.46 60,-1.56 61,-1.52 62,-1.44 63,-1.51 64,-1.62 65,-1.60 66,-1.45 67,-1.26 68,-0.88 69,-0.32 70,0.18 71,0.37 72,0.25 73,-0.05 74,-0.49 75,-0.95 76,-1.24 77,-1.37 78,-1.38 79,-1.26 80,-1.14 81,-1.15 82,-1.31 83,-1.50 84,-1.59 85,-1.40 86,-0.97 87,-0.58 88,-0.35 89,-0.29 90,-0.33 91,-0.32 92,-0.20 93,0.10 94,0.40 95,0.62 96,0.90 97,0.70 98,0.23 99,-0.38 100,-0.68 101,-0.90 102,-1.09 103,-1.24 104,-1.26 105,-1.15 106,-0.84 107,-0.47 108,-0.32 109,-0.23 110,-0.06 111,0.29 112,0.54 113,0.62 114,0.61 115,0.64 116,0.54 117,0.23 118,-0.08 119,-0.34"/>
  </g>
  <rect class="frame" x="74" y="0" width="1111" height="241.5"/>
  <path class="tick" d="M69,0H74M69,30.19H74M69,60.38H74M69,90.56H74M69,120.75H74M69,150.94H74M69,181.13H74M69,211.31H74M69,241.5H74M132.45,241.5V246.5M249.35,241.5V246.5M382.95,241.5V246.5M499.85,241.5V246.5M641.8,241.5V246.5M758.7,241.5V246.5M892.3,241.5V246.5M1009.2,241.5V246.5M1151.15,241.5V246.5"/>
  <text class="yt" x="64" y="5">4</text><text class="yt" x="64" y="35.2">3</text><text class="yt" x="64" y="65.4">2</text><text class="yt" x="64" y="95.6">1</text><text class="yt" x="64" y="125.8">0</text><text class="yt" x="64" y="155.9">−1</text><text class="yt" x="64" y="186.1">−2</text><text class="yt" x="64" y="216.3">−3</text><text class="yt" x="64" y="246.5">−4</text>
  <text class="xt" x="132.45" y="262.7">01 Sep</text><text class="xt" x="249.35" y="262.7">15 Sep</text><text class="xt" x="382.95" y="262.7">01 Oct</text><text class="xt" x="499.85" y="262.7">15 Oct</text><text class="xt" x="641.8" y="262.7">01 Nov</text><text class="xt" x="758.7" y="262.7">15 Nov</text><text class="xt" x="892.3" y="262.7">01 Dec</text><text class="xt" x="1009.2" y="262.7">15 Dec</text><text class="xt" x="1151.15" y="262.7">01 Jan</text>
  <text class="ttl" x="74" y="-9.5">500mb Z (10 day Forecast)</text>
  <text class="rt" x="1184" y="-10.5">mean=-0.2789; cor(w/obs)=0.5865</text>
  <text class="yl" transform="translate(35,120.75) rotate(-90)">Index</text>
</g>

<!-- ================= PANEL 4 ================= -->
<g transform="translate(0,1121)">
  <g transform="translate(74,0) scale(8.35,-30.1875) translate(0,-4)">
    <polygon class="band" points="0,0.73 1,0.77 2,0.61 3,0.38 4,0.26 5,0.21 6,0.30 7,0.60 8,0.68 9,0.74 10,0.59 11,0.50 12,0.47 13,0.50 14,0.48 15,0.48 16,0.60 17,0.77 18,0.81 19,0.95 20,1.00 21,1.02 22,0.86 23,0.72 24,0.59 25,0.54 26,0.45 27,0.47 28,0.43 29,0.51 30,0.38 31,0.20 32,0.05 33,-0.05 34,-0.15 35,-0.25 36,-0.35 37,-0.25 38,0.10 39,0.45 40,0.80 41,0.80 42,0.78 43,0.78 44,0.75 45,0.69 46,0.70 47,0.76 48,0.84 49,0.82 50,0.76 51,0.72 52,0.74 53,0.56 54,0.33 55,0.13 56,-0.16 57,-0.37 58,-0.45 59,-0.34 60,-0.11 61,-0.17 62,-0.34 63,-0.48 64,-0.46 65,-0.44 66,-0.47 67,-0.45 68,-0.37 69,-0.06 70,-0.02 71,0.17 72,0.16 73,0.43 74,0.54 75,0.68 76,0.85 77,0.92 78,1.08 79,1.04 80,0.91 81,0.81 82,0.68 83,0.68 84,0.65 85,0.70 86,0.72 87,0.44 88,0.31 89,0.12 90,0.18 91,0.08 92,0.19 93,0.43 94,0.67 95,0.79 96,0.73 97,0.79 98,0.72 99,0.78 100,0.59 101,0.58 102,0.49 103,0.81 104,1.06 105,1.27 106,1.16 107,0.97 108,0.97 109,0.96 110,0.96 111,0.67 112,0.55 113,0.59 114,0.63 115,0.81 116,0.84 117,0.96 118,0.81 119,0.78 120,0.68 121,0.81 122,0.85 123,0.73 124,0.57 125,0.43 126,0.34 127,0.24 128,0.19 129,0.29 130,0.54 131,0.77 132,0.69 133,0.63 133,-0.79 132,-0.85 131,-1.03 130,-1.30 129,-1.49 128,-1.27 127,-1.10 126,-1.04 125,-1.03 124,-0.81 123,-0.65 122,-0.45 121,-0.61 120,-0.48 119,-0.64 118,-0.39 117,-0.34 116,-0.30 115,-0.49 114,-0.67 113,-0.67 112,-0.63 111,-0.59 110,-0.50 109,-0.50 108,-0.43 107,-0.39 106,-0.30 105,-0.37 104,-0.60 103,-0.79 102,-1.09 101,-1.00 100,-0.91 99,-0.64 98,-0.52 97,-0.47 96,-0.41 95,-0.43 94,-0.53 93,-0.97 92,-1.27 91,-1.60 90,-1.48 89,-1.48 88,-1.29 87,-1.20 86,-0.96 85,-0.90 84,-0.85 83,-0.66 82,-0.44 81,-0.19 80,-0.07 79,-0.02 78,-0.12 77,-0.34 76,-0.45 75,-0.62 74,-0.70 73,-0.91 72,-1.18 71,-1.25 70,-1.36 69,-1.42 68,-1.63 67,-1.73 66,-1.73 65,-1.76 64,-1.84 63,-1.78 62,-1.64 61,-1.41 60,-1.47 59,-1.90 58,-2.07 57,-2.27 56,-2.04 55,-1.81 54,-1.49 53,-1.20 52,-1.06 51,-0.92 50,-0.78 49,-0.58 48,-0.44 47,-0.44 46,-0.44 45,-0.45 44,-0.39 43,-0.64 42,-0.64 41,-0.72 40,-0.52 39,-0.85 38,-1.27 37,-1.60 36,-1.73 35,-1.62 34,-1.50 33,-1.35 32,-1.03 31,-0.85 30,-0.70 29,-0.59 28,-0.67 27,-0.71 26,-0.77 25,-0.78 24,-0.75 23,-0.58 22,-0.44 21,-0.34 20,-0.32 19,-0.37 18,-0.45 17,-0.63 16,-0.80 15,-0.86 14,-0.90 13,-0.92 12,-0.95 11,-0.96 10,-0.79 9,-0.72 8,-0.72 7,-0.80 6,-0.98 5,-1.09 4,-1.14 3,-1.14 2,-0.99 1,-0.81 0,-0.77"/>
  </g>
  <path class="grid" d="M74,30.19H1185M74,60.38H1185M74,90.56H1185M74,150.94H1185M74,181.13H1185M74,211.31H1185M132.45,0V241.5M249.35,0V241.5M382.95,0V241.5M499.85,0V241.5M641.8,0V241.5M758.7,0V241.5M892.3,0V241.5M1009.2,0V241.5M1151.15,0V241.5"/>
  <path class="zero" d="M74,120.75H1185"/>
  <g transform="translate(74,0) scale(8.35,-30.1875) translate(0,-4)">
    <polyline class="red" vector-effect="non-scaling-stroke" points="0,1.60 1,1.71 2,1.40 3,1.14 4,0.95 5,1.06 6,1.15 7,1.40 8,1.42 9,1.34 10,1.23 11,1.09 12,1.23 13,1.14 14,1.17 15,0.95 16,1.20 17,1.40 18,1.51 19,1.64 20,1.60 21,1.60 22,1.51 23,1.47 24,1.34 25,1.17 26,0.99 27,0.97 28,0.87 29,0.93 30,0.90 31,0.93 32,0.87 33,1.12 34,1.26 35,1.21 36,1.06 37,0.95 38,1.20 39,1.45 40,1.51 41,1.67 42,1.45 43,1.40 44,1.15 45,1.17 46,1.20 47,1.23 48,1.31 49,1.40 50,1.56 51,1.60 52,1.71 53,1.40 54,1.12 55,0.90 56,0.64 57,0.68 58,0.51 59,0.51 60,0.53 61,0.42 62,0.45 63,0.23 64,0.27 65,0.23 66,0.23 67,0.23 68,0.17 69,0.62 70,0.64 71,0.90 72,0.73 73,0.99 74,1.06 75,1.23 76,1.34 77,1.51 78,1.67 79,1.60 80,1.37 81,1.23 82,1.15 83,1.23 84,1.31 85,1.40 86,1.48 87,1.17 88,1.06 89,0.71 90,0.99 91,0.95 92,0.95 93,0.99 94,1.04 95,1.28 96,1.25 97,1.40 98,1.26 99,1.60 100,1.45 101,1.45 102,1.17 103,1.51 104,1.78 105,2.09 106,1.87 107,1.65 108,1.53 109,1.51 110,1.51 111,1.17 112,1.12 113,1.26 114,1.37 115,1.45 116,1.31 117,1.40 118,1.25 119,1.48 120,1.40 121,1.60 122,1.51 123,1.45 124,1.45 125,1.31 126,1.17 127,1.01 128,1.01 129,1.67 130,1.98 131,2.15 132,1.73 133,1.45"/>
    <polyline class="red" vector-effect="non-scaling-stroke" points="0,-1.54 1,-1.62 2,-1.95 3,-2.07 4,-1.98 5,-1.65 6,-1.54 7,-1.56 8,-1.54 9,-1.74 10,-1.67 11,-1.96 12,-1.76 13,-1.85 14,-1.74 15,-1.85 16,-1.76 17,-1.56 18,-1.15 19,-1.15 20,-1.17 21,-1.26 22,-1.24 23,-1.26 24,-1.46 25,-1.59 26,-1.59 27,-1.52 28,-1.46 29,-1.37 30,-1.37 31,-1.51 32,-1.76 33,-2.28 34,-2.45 35,-2.72 36,-2.89 37,-2.76 38,-2.31 39,-1.59 40,-1.28 41,-1.54 42,-1.52 43,-1.59 44,-1.24 45,-1.23 46,-1.18 47,-1.30 48,-1.37 49,-1.52 50,-1.67 51,-1.84 52,-2.07 53,-2.29 54,-2.72 55,-3.17 56,-3.31 57,-3.32 58,-2.89 59,-2.76 60,-2.31 61,-2.18 62,-2.26 63,-2.48 64,-2.61 65,-2.54 66,-2.40 67,-2.47 68,-2.48 69,-2.24 70,-2.17 71,-2.09 72,-2.07 73,-1.82 74,-1.56 75,-1.51 76,-1.37 77,-1.12 78,-0.87 79,-0.62 80,-0.69 81,-0.87 82,-1.21 83,-1.59 84,-1.82 85,-1.98 86,-2.04 87,-2.26 88,-2.31 89,-2.67 90,-2.48 91,-2.56 92,-2.13 93,-1.95 94,-1.48 95,-1.30 96,-1.15 97,-1.26 98,-1.34 99,-1.37 100,-1.71 101,-1.87 102,-2.13 103,-1.87 104,-1.71 105,-1.37 106,-1.21 107,-1.21 108,-1.43 109,-1.54 110,-1.57 111,-1.48 112,-1.37 113,-1.37 114,-1.37 115,-1.26 116,-1.10 117,-1.35 118,-1.28 119,-1.51 120,-1.02 121,-1.37 122,-1.21 123,-1.45 124,-1.45 125,-1.74 126,-1.71 127,-1.79 128,-2.06 129,-2.06 130,-1.87 131,-1.65 132,-1.51 133,-1.52"/>
    <polyline class="blue" vector-effect="non-scaling-stroke" points="0,-0.02 1,-0.02 2,-0.19 3,-0.38 4,-0.44 5,-0.44 6,-0.34 7,-0.10 8,-0.02 9,0.01 10,-0.10 11,-0.23 12,-0.24 13,-0.21 14,-0.21 15,-0.19 16,-0.10 17,0.07 18,0.18 19,0.29 20,0.34 21,0.34 22,0.21 23,0.07 24,-0.08 25,-0.12 26,-0.16 27,-0.12 28,-0.12 29,-0.04 30,-0.16 31,-0.27 32,-0.40 33,-0.52 34,-0.62 35,-0.73 36,-0.79 37,-0.71 38,-0.43 39,-0.13 40,0.14 41,0.04 42,0.07 43,0.07 44,0.18 45,0.12 46,0.13 47,0.16 48,0.20 49,0.12 50,-0.01 51,-0.10 52,-0.16 53,-0.32 54,-0.58 55,-0.84 56,-1.10 57,-1.32 58,-1.26 59,-1.12 60,-0.79 61,-0.79 62,-0.99 63,-1.13 64,-1.15 65,-1.10 66,-1.10 67,-1.09 68,-1.00 69,-0.74 70,-0.69 71,-0.54 72,-0.51 73,-0.24 74,-0.08 75,0.03 76,0.20 77,0.29 78,0.48 79,0.51 80,0.42 81,0.31 82,0.12 83,0.01 84,-0.10 85,-0.10 86,-0.12 87,-0.38 88,-0.49 89,-0.68 90,-0.65 91,-0.76 92,-0.54 93,-0.27 94,0.07 95,0.18 96,0.16 97,0.16 98,0.10 99,0.07 100,-0.16 101,-0.21 102,-0.30 103,0.01 104,0.23 105,0.45 106,0.43 107,0.29 108,0.27 109,0.23 110,0.23 111,0.04 112,-0.04 113,-0.04 114,-0.02 115,0.16 116,0.27 117,0.31 118,0.21 119,0.07 120,0.10 121,0.10 122,0.20 123,0.04 124,-0.12 125,-0.30 126,-0.35 127,-0.43 128,-0.54 129,-0.60 130,-0.38 131,-0.13 132,-0.08 133,-0.08"/>
    <polyline class="obs" vector-effect="non-scaling-stroke" points="0,-0.52 1,-0.40 2,-0.27 3,0.03 4,0.34 5,0.40 6,0.29 7,0.21 8,0.20 9,0.09 10,-0.13 11,-0.32 12,-0.47 13,-0.45 14,-0.34 15,-0.19 16,-0.27 17,-0.58 18,-0.90 19,-0.95 20,-0.80 21,-0.67 22,-0.66 23,-0.66 24,-0.72 25,-0.79 26,-0.84 27,-0.79 28,-0.72 29,-0.64 30,-0.51 31,-0.30 32,0.01 33,0.29 34,0.46 35,0.33 36,0.10 37,0.04 38,0.40 39,0.88 40,0.92 41,0.74 42,0.74 43,0.98 44,1.15 45,1.23 46,1.21 47,1.09 48,0.60 49,0.23 50,-0.10 51,-0.36 52,-0.74 53,-1.13 54,-1.34 55,-1.40 56,-1.32 57,-1.24 58,-1.30 59,-1.46 60,-1.56 61,-1.52 62,-1.44 63,-1.51 64,-1.62 65,-1.60 66,-1.45 67,-1.26 68,-0.88 69,-0.32 70,0.18 71,0.37 72,0.25 73,-0.05 74,-0.49 75,-0.95 76,-1.24 77,-1.37 78,-1.38 79,-1.26 80,-1.14 81,-1.15 82,-1.31 83,-1.50 84,-1.59 85,-1.40 86,-0.97 87,-0.58 88,-0.35 89,-0.29 90,-0.33 91,-0.32 92,-0.20 93,0.10 94,0.40 95,0.62 96,0.90 97,0.70 98,0.23 99,-0.38 100,-0.68 101,-0.90 102,-1.09 103,-1.24 104,-1.26 105,-1.15 106,-0.84 107,-0.47 108,-0.32 109,-0.23 110,-0.06 111,0.29 112,0.54 113,0.62 114,0.61 115,0.64 116,0.54 117,0.23 118,-0.08 119,-0.34"/>
  </g>
  <rect class="frame" x="74" y="0" width="1111" height="241.5"/>
  <path class="tick" d="M69,0H74M69,30.19H74M69,60.38H74M69,90.56H74M69,120.75H74M69,150.94H74M69,181.13H74M69,211.31H74M69,241.5H74M132.45,241.5V246.5M249.35,241.5V246.5M382.95,241.5V246.5M499.85,241.5V246.5M641.8,241.5V246.5M758.7,241.5V246.5M892.3,241.5V246.5M1009.2,241.5V246.5M1151.15,241.5V246.5"/>
  <text class="yt" x="64" y="5">4</text><text class="yt" x="64" y="35.2">3</text><text class="yt" x="64" y="65.4">2</text><text class="yt" x="64" y="95.6">1</text><text class="yt" x="64" y="125.8">0</text><text class="yt" x="64" y="155.9">−1</text><text class="yt" x="64" y="186.1">−2</text><text class="yt" x="64" y="216.3">−3</text><text class="yt" x="64" y="246.5">−4</text>
  <text class="xt" x="132.45" y="262.7">01 Sep</text><text class="xt" x="249.35" y="262.7">15 Sep</text><text class="xt" x="382.95" y="262.7">01 Oct</text><text class="xt" x="499.85" y="262.7">15 Oct</text><text class="xt" x="641.8" y="262.7">01 Nov</text><text class="xt" x="758.7" y="262.7">15 Nov</text><text class="xt" x="892.3" y="262.7">01 Dec</text><text class="xt" x="1009.2" y="262.7">15 Dec</text><text class="xt" x="1151.15" y="262.7">01 Jan</text>
  <text class="ttl" x="74" y="-9.5">500mb Z (14 day Forecast)</text>
  <text class="rt" x="1184" y="-10.5">mean=-0.2185; cor(w/obs)=0.2879</text>
  <text class="yl" transform="translate(35,120.75) rotate(-90)">Index</text>
</g>
</svg>
</body>
</html>
